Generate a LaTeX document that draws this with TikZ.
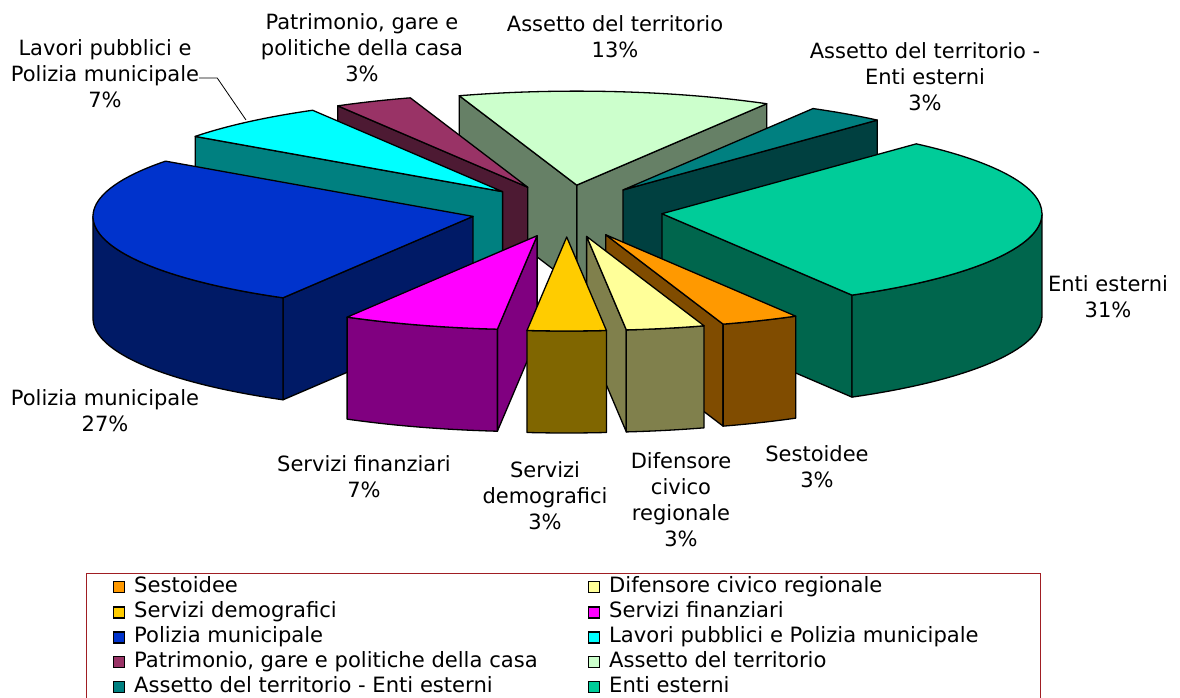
\documentclass[tikz,border=0pt]{standalone}
\usepackage{fontspec}
\setmainfont{DejaVu Sans}
\usetikzlibrary{calc}
\definecolor{sesT}{HTML}{FF9900}\definecolor{sesS}{HTML}{804C00}
\definecolor{difT}{HTML}{FFFF99}\definecolor{difS}{HTML}{80804C}
\definecolor{demT}{HTML}{FFCC00}\definecolor{demS}{HTML}{806600}
\definecolor{finT}{HTML}{FF00FF}\definecolor{finS}{HTML}{800080}
\definecolor{polT}{HTML}{0033CC}\definecolor{polS}{HTML}{001A66}
\definecolor{lavT}{HTML}{00FFFF}\definecolor{lavS}{HTML}{008080}
\definecolor{patT}{HTML}{993366}\definecolor{patS}{HTML}{4D1A33}
\definecolor{assT}{HTML}{CCFFCC}\definecolor{assS}{HTML}{668066}
\definecolor{aeeT}{HTML}{008080}\definecolor{aeeS}{HTML}{004040}
\definecolor{entT}{HTML}{00CC99}\definecolor{entS}{HTML}{00664D}
\definecolor{legbd}{HTML}{A01E23}
\newcommand{\pieApex}[2]{%
  \pgfmathsetmacro\pmid{(#1+#2)/2}%
  \coordinate (P) at ({566.7+95.8*cos(\pmid)},{487+26*sin(\pmid)});}
\newcommand{\pieFace}[2]{%
  \filldraw[fill=#2,piedge] (P) -- ($(P)+(#1:380pt and 94pt)$) -- ++(0,-102pt) -- ($(P)+(0,-102pt)$) -- cycle;}
\newcommand{\pieSide}[3]{%
  \filldraw[fill=#3,piedge] ($(P)+(#1:380pt and 94pt)$) arc[start angle=#1,end angle=#2,x radius=380pt,y radius=94pt] -- ++(0,-102pt) arc[start angle=#2,end angle=#1,x radius=380pt,y radius=94pt] -- cycle;}
\newcommand{\pieTop}[3]{%
  \filldraw[fill=#3,piedge] (P) -- ($(P)+(#1:380pt and 94pt)$) arc[start angle=#1,end angle=#2,x radius=380pt,y radius=94pt] -- cycle;}
\tikzset{
  piedge/.style={draw=black,line width=1.3pt,line join=round},
  lbl/.style={font=\fontsize{21}{26}\selectfont,align=center,inner sep=0pt,text=black},
  legtxt/.style={font=\fontsize{21.1}{24}\selectfont,anchor=west,inner sep=0pt,text height=15pt,text depth=4pt},
  legkey/.style={draw=black,line width=1.2pt,minimum size=11pt,inner sep=0pt},
  leader/.style={draw=black,line width=0.8pt},
}
\begin{document}
\begin{tikzpicture}[x=1pt,y=1pt]
\useasboundingbox (0,0) rectangle (1180,698);
\fill[white] (0,0) rectangle (1180,698);
% slices, back to front
\pieApex{60}{108}\pieFace{60}{assS}\pieFace{108}{assS}\pieTop{60}{108}{assT}
\pieApex{108}{120}\pieFace{120}{patS}\pieTop{108}{120}{patT}
\pieApex{48}{60}\pieFace{48}{aeeS}\pieTop{48}{60}{aeeT}
\pieApex{120}{144}\pieFace{144}{lavS}\pieTop{120}{144}{lavT}
\pieApex{-60}{48}\pieFace{-60}{entS}\pieSide{-60}{0}{entS}\pieTop{-60}{48}{entT}
\pieApex{144}{240}\pieFace{240}{polS}\pieSide{180}{240}{polS}\pieTop{144}{240}{polT}
\pieApex{240}{264}\pieFace{264}{finS}\pieSide{240}{264}{finS}\pieTop{240}{264}{finT}
\pieApex{288}{300}\pieFace{288}{sesS}\pieSide{288}{300}{sesS}\pieTop{288}{300}{sesT}
\pieApex{276}{288}\pieFace{276}{difS}\pieSide{276}{288}{difS}\pieTop{276}{288}{difT}
\pieApex{264}{276}\pieSide{264}{276}{demS}\pieTop{264}{276}{demT}
% labels
\node[lbl] (lass) at (615,661) {Assetto del territorio\\13\%};
\node[lbl] (lpat) at (362,650) {Patrimonio, gare e\\politiche della casa\\3\%};
\node[lbl] (llav) at (105,624) {Lavori pubblici e\\Polizia municipale\\7\%};
\node[lbl] (laee) at (925,621) {Assetto del territorio -\\Enti esterni\\3\%};
\node[lbl] (lent) at (1108,401.5) {Enti esterni\\31\%};
\node[lbl] (lpol) at (105,287) {Polizia municipale\\27\%};
\node[lbl] (lfin) at (364,221) {Servizi finanziari\\7\%};
\node[lbl] (ldem) at (545,202) {Servizi\\demografici\\3\%};
\node[lbl] (ldif) at (681,198) {Difensore\\civico\\regionale\\3\%};
\node[lbl] (lses) at (817,231) {Sestoidee\\3\%};
\coordinate (lavtip) at (246,578);
\draw[leader] ([yshift=-4pt]llav.east) -- ++(18,0) -- (lavtip);
% legend
\draw[legbd,line width=1pt] (86,0) -- (86,124) -- (1040,124) -- (1040,0);
\node[legkey,fill=sesT] (k1) at (119,111) {};
\node[legtxt] (t1) at (134,111) {Sestoidee};
\node[legkey,fill=demT] (k3) at (119,85.5) {};
\node[legtxt] (t3) at (134,85.5) {Servizi demografici};
\node[legkey,fill=polT] (k5) at (119,60.5) {};
\node[legtxt] (t5) at (134,60.5) {Polizia municipale};
\node[legkey,fill=patT] (k7) at (119,36) {};
\node[legtxt] (t7) at (134,36) {Patrimonio, gare e politiche della casa};
\node[legkey,fill=aeeT] (k9) at (119,11) {};
\node[legtxt] (t9) at (134,11) {Assetto del territorio - Enti esterni};
\node[legkey,fill=difT] (k2) at (594,111) {};
\node[legtxt] (t2) at (609,111) {Difensore civico regionale};
\node[legkey,fill=finT] (k4) at (594,85.5) {};
\node[legtxt] (t4) at (609,85.5) {Servizi finanziari};
\node[legkey,fill=lavT] (k6) at (594,60.5) {};
\node[legtxt] (t6) at (609,60.5) {Lavori pubblici e Polizia municipale};
\node[legkey,fill=assT] (k8) at (594,36) {};
\node[legtxt] (t8) at (609,36) {Assetto del territorio};
\node[legkey,fill=entT] (k10) at (594,11) {};
\node[legtxt] (t10) at (609,11) {Enti esterni};
\end{tikzpicture}
\end{document}
